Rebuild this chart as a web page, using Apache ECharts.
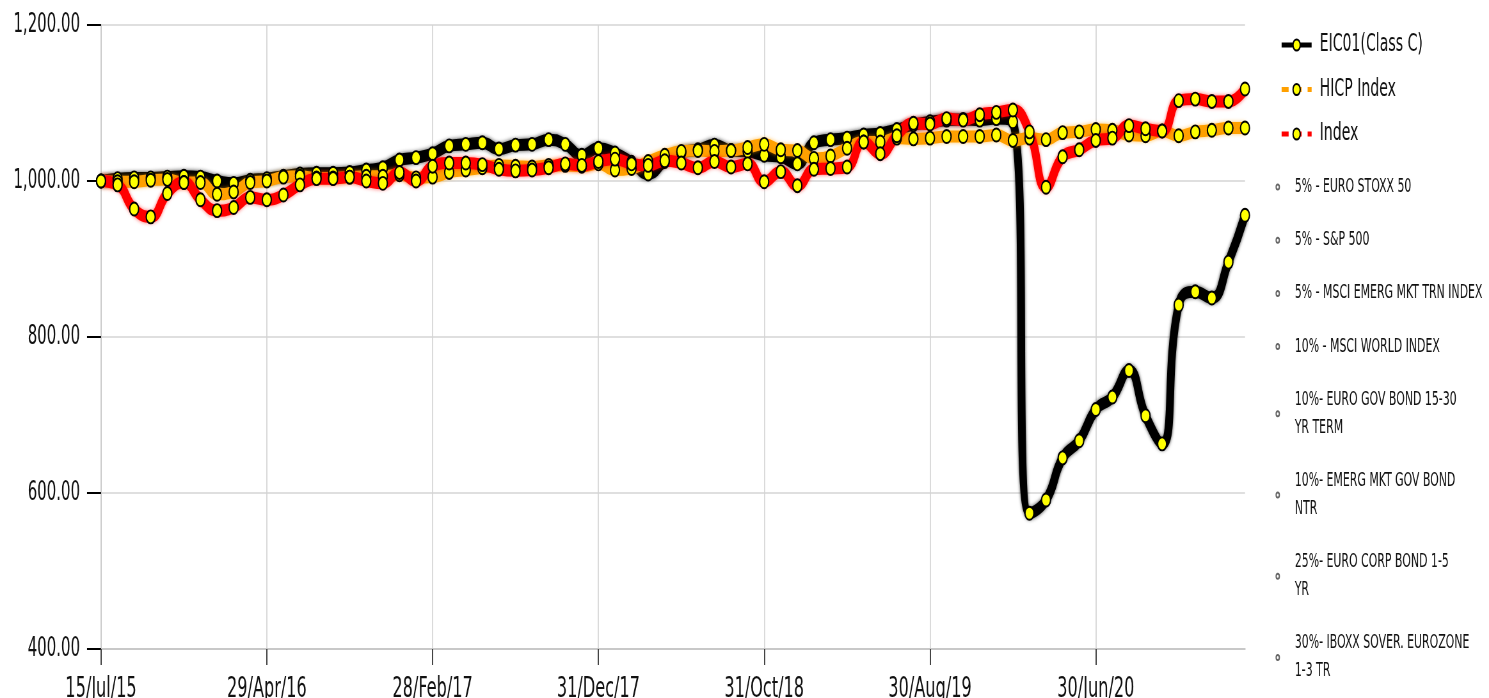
<!DOCTYPE html>
<html>
<head>
<meta charset="utf-8">
<script src="https://cdn.jsdelivr.net/npm/echarts@6.0.0/dist/echarts.min.js"></script>
<style>
html,body{margin:0;padding:0;overflow:hidden;background:#fff;width:1489px;height:698px;}
#wrap{width:1489px;height:698px;overflow:hidden;position:relative;}
#chart{position:absolute;left:0;top:0;width:2327px;height:698px;transform:scaleX(0.639879);transform-origin:0 0;}
</style>
</head>
<body>
<div id="wrap"><div id="chart"></div></div>
<script>
// ---------------- data ----------------
const categories = [
  '15/Jul/15','31/Jul/15','31/Aug/15','30/Sep/15','30/Oct/15','30/Nov/15','31/Dec/15','29/Jan/16','29/Feb/16','31/Mar/16',
  '29/Apr/16','31/May/16','30/Jun/16','29/Jul/16','31/Aug/16','30/Sep/16','31/Oct/16','30/Nov/16','30/Dec/16','31/Jan/17',
  '28/Feb/17','31/Mar/17','28/Apr/17','31/May/17','30/Jun/17','31/Jul/17','31/Aug/17','29/Sep/17','31/Oct/17','30/Nov/17',
  '31/Dec/17','31/Jan/18','28/Feb/18','29/Mar/18','30/Apr/18','31/May/18','29/Jun/18','31/Jul/18','31/Aug/18','28/Sep/18',
  '31/Oct/18','30/Nov/18','31/Dec/18','31/Jan/19','28/Feb/19','29/Mar/19','30/Apr/19','31/May/19','28/Jun/19','31/Jul/19',
  '30/Aug/19','30/Sep/19','31/Oct/19','29/Nov/19','31/Dec/19','31/Jan/20','28/Feb/20','31/Mar/20','30/Apr/20','29/May/20',
  '30/Jun/20','31/Jul/20','31/Aug/20','30/Sep/20','30/Oct/20','30/Nov/20','31/Dec/20','29/Jan/21','26/Feb/21','31/Mar/21'
];

const fundValues = [
  1000,1003,1004,1004,1005,1006,1005,1000,997,1001,
  1003,1006,1009,1010,1010,1011,1014,1017,1027,1030,
  1035,1045,1047,1049,1041,1046,1047,1053,1047,1033,
  1042,1036,1024,1009,1025,1037,1040,1046,1039,1038,
  1033,1031,1022,1049,1053,1055,1059,1061,1066,1072,
  1076,1078,1079,1078,1080,1076,574,591,645,667,
  707,723,757,699,663,841,858,850,896,956
];

const hicpValues = [
  1000,999,999,1001,1002,998,998,983,986,998,
  1000,1005,1006,1004,1004,1005,1006,1006,1008,1004,
  1005,1011,1014,1017,1020,1019,1018,1020,1020,1019,
  1022,1014,1016,1025,1033,1038,1039,1038,1039,1043,
  1047,1040,1039,1029,1032,1042,1050,1050,1055,1054,
  1055,1057,1057,1057,1059,1052,1055,1053,1062,1063,
  1066,1065,1059,1058,1064,1058,1063,1065,1068,1068
];

const indexValues = [
  1000,995,964,954,984,998,976,962,966,979,
  976,982,995,1003,1003,1005,1000,997,1011,1000,
  1019,1023,1023,1021,1015,1013,1014,1017,1022,1020,
  1025,1028,1022,1020,1026,1023,1017,1025,1018,1022,
  999,1012,994,1015,1016,1018,1050,1035,1058,1074,
  1073,1080,1078,1085,1088,1091,1063,992,1031,1040,
  1052,1055,1071,1067,1064,1103,1105,1102,1102,1118
];

const mainNames = ['EIC01(Class C)', 'HICP Index', 'Index'];

const componentNames = [
  '5% - EURO STOXX 50',
  '5% - S&P 500',
  '5% - MSCI EMERG MKT TRN INDEX',
  '10% - MSCI WORLD INDEX',
  '10%- EURO GOV BOND 15-30 YR TERM',
  '10%- EMERG MKT GOV BOND NTR',
  '25%- EURO CORP BOND 1-5 YR',
  '30%- IBOXX SOVER. EUROZONE 1-3 TR'
];
const componentLabels = [
  '5% - EURO STOXX 50',
  '5% - S&P 500',
  '5% - MSCI EMERG MKT TRN INDEX',
  '10% - MSCI WORLD INDEX',
  '10%- EURO GOV BOND 15-30\nYR TERM',
  '10%- EMERG MKT GOV BOND\nNTR',
  '25%- EURO CORP BOND 1-5\nYR',
  '30%- IBOXX SOVER. EUROZONE\n1-3 TR'
];

const yTicks = [400, 600, 800, 1000, 1200];

// ---------------- chart ----------------
const W = 2327;
const SX = 1489 / W;               // horizontal squeeze applied by CSS
const px = v => v / SX;            // final x-distance -> pre-squeeze units
const FONT = "'Liberation Sans Narrow', 'Arial Narrow', 'DejaVu Sans Condensed', sans-serif";

const chart = echarts.init(document.getElementById('chart'), null, {renderer: 'canvas'});

function lineSeries(name, data, color, shadow) {
  return {
    name: name,
    type: 'line',
    data: data,
    smooth: 0.5,
    symbol: 'circle',
    symbolSize: [px(9), 13],
    showAllSymbol: true,
    lineStyle: {color: color, width: 12, shadowColor: shadow, shadowBlur: 4},
    itemStyle: {color: '#ffff00', borderColor: '#000', borderWidth: 2},
    emphasis: {disabled: true},
    animation: false
  };
}

const series = [
  lineSeries(mainNames[0], fundValues, '#000000', 'rgba(0,0,0,0.75)'),
  lineSeries(mainNames[1], hicpValues, '#ffa000', 'rgba(255,160,0,0.6)'),
  lineSeries(mainNames[2], indexValues, '#ff0000', 'rgba(255,0,0,0.6)')
];
componentNames.forEach(n => series.push({
  name: n, type: 'line', data: [], symbol: 'circle',
  itemStyle: {color: '#ffffff', borderColor: '#666', borderWidth: 1.2},
  lineStyle: {color: '#666'}
}));

const option = {
  animation: false,
  backgroundColor: '#fff',
  grid: {left: px(101), right: W - px(1245), top: 25, bottom: 49, containLabel: false, outerBoundsMode: 'none'},
  legend: [
    {
      orient: 'vertical', left: px(1280), top: 31, padding: 0,
      itemWidth: px(30), itemHeight: 14, itemGap: 16.5,
      selectedMode: false,
      data: [
        {name: mainNames[0]},
        {name: mainNames[1], lineStyle: {type: [px(7), px(6)]}},
        {name: mainNames[2], lineStyle: {type: [px(7), px(6)]}}
      ],
      lineStyle: {width: 5},
      textStyle: {fontFamily: FONT, fontSize: 24.5, color: '#111', lineHeight: 28, padding: [0, 0, 0, px(8) - 5]}
    },
    {
      orient: 'vertical', left: px(1275.5), top: 173, height: 560, padding: 0,
      itemWidth: px(5), itemHeight: 5, itemGap: 25.2,
      selectedMode: false,
      icon: 'circle',
      data: componentNames,
      formatter: n => componentLabels[componentNames.indexOf(n)],
      textStyle: {fontFamily: FONT, fontSize: 19, color: '#111', lineHeight: 28, padding: [0, 0, 0, px(14.5) - 5]}
    }
  ],
  xAxis: {
    type: 'category',
    data: categories,
    boundaryGap: false,
    axisLine: {show: true, lineStyle: {color: '#c8c8c8', width: 2}},
    axisTick: {show: true, interval: 9, length: 16, lineStyle: {color: '#444', width: 2}},
    axisLabel: {interval: 9, margin: 27, fontFamily: FONT, fontSize: 28, color: '#111'},
    splitLine: {show: true, interval: 9, lineStyle: {color: '#d4d4d4', width: 1.7}}
  },
  yAxis: {
    type: 'value',
    min: yTicks[0], max: yTicks[yTicks.length - 1], interval: 200,
    axisLine: {show: true, lineStyle: {color: '#c8c8c8', width: 1.7}},
    axisTick: {show: true, length: px(14), lineStyle: {color: '#000', width: 2}},
    axisLabel: {
      margin: px(21), fontFamily: FONT, fontSize: 26, color: '#111',
      formatter: v => v.toLocaleString('en-US', {minimumFractionDigits: 2, maximumFractionDigits: 2})
    },
    splitLine: {show: true, lineStyle: {color: '#d4d4d4', width: 1.5}}
  },
  series: series
};
chart.setOption(option);
</script>
</body>
</html>
